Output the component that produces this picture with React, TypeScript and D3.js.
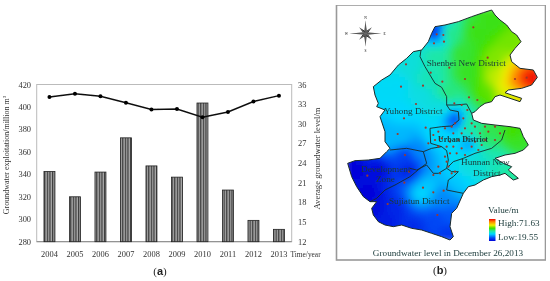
import React from "react";
import * as d3 from "d3";

const years = ["2004","2005","2006","2007","2008","2009","2010","2011","2012","2013"];
const exploitation = [342.5,320,342,372.5,347.5,337.5,403.5,326,299,291];
const level = [34.1,34.6,34.2,33.2,32.2,32.25,31.0,31.8,33.4,34.3];
const leftTicks = [280,300,320,340,360,380,400,420];
const rightTicks = [12,15,18,21,24,27,30,33,36];

type P = [number, number];
const outer: P[] = [[300,80],[330,75],[370,65],[410,50],[445,38],[470,30],[480,45],[495,60],[515,75],[530,95],[545,105],[558,125],[540,145],[525,165],[530,185],[555,205],[595,210],[607,232],[590,255],[560,265],[520,270],[510,278],[530,285],[560,295],[555,305],[525,295],[495,285],[480,290],[470,305],[450,310],[435,320],[420,335],[410,340],[415,360],[440,370],[480,375],[525,380],[555,385],[565,410],[580,435],[565,450],[540,460],[510,465],[480,475],[505,490],[530,500],[520,510],[550,535],[535,540],[510,520],[495,525],[470,530],[445,540],[420,555],[400,560],[385,580],[365,625],[350,640],[345,680],[355,710],[345,720],[320,710],[290,700],[260,690],[230,685],[200,675],[175,680],[150,675],[130,665],[115,645],[110,625],[125,605],[105,605],[85,590],[65,560],[50,530],[38,490],[60,482],[100,480],[135,475],[155,455],[165,445],[150,425],[150,395],[135,350],[150,330],[125,320],[130,310],[120,285],[115,260],[140,240],[165,225],[190,195],[215,175],[235,155],[260,150],[280,125],[290,100]];
const boundaries: P[][] = [
  [[258,150],[255,170],[270,200],[285,225],[300,250],[320,262],[335,290],[335,315],[360,315],[395,312],[410,340]],
  [[335,315],[345,330],[370,335],[372,360],[350,378],[320,380],[285,385],[287,430],[320,440],[335,452],[340,480],[335,505],[350,515],[370,515],[355,530],[340,540],[335,570],[385,580]],
  [[165,450],[215,445],[265,455],[290,445],[320,440]],
  [[265,455],[275,490],[255,505],[225,530],[180,555],[150,570],[125,595],[105,605]],
  [[225,505],[245,510],[275,495],[295,520],[310,520],[335,505]],
  [[510,390],[500,420],[470,445],[420,460],[385,475],[355,485],[340,500]],
];
const wells: P[] = [[415,82],[305,103],[325,105],[327,125],[297,130],[458,173],[213,193],[343,203],[287,218],[390,237],[322,245],[540,237],[575,233],[198,260],[264,257],[402,292],[427,300],[243,312],[397,330],[358,310],[380,315],[207,355],[272,383],[188,402],[210,465],[97,527],[222,515],[208,548],[264,563],[295,577],[326,572],[158,612],[307,645],[310,500],[295,525],[335,485],[340,500],[350,520],[360,515],[315,520],[385,355],[360,370],[410,370],[350,380],[420,380],[390,385],[450,380],[480,380],[330,385],[310,395],[295,405],[355,400],[380,400],[410,400],[435,400],[460,395],[495,400],[320,415],[345,425],[370,420],[395,415],[420,425],[450,420],[480,420],[300,420],[310,440],[335,440],[355,440],[380,445],[410,440],[440,435],[280,430],[365,460],[390,465],[430,450],[345,460],[330,470]];
const samples: [number, number, number][] = [[600,235,1],[570,235,.97],[540,240,.88],[510,235,.74],[490,230,.68],[480,180,.63],[530,130,.62],[470,60,.56],[420,100,.56],[380,160,.54],[340,100,.47],[305,95,.1],[390,220,.55],[450,280,.6],[520,285,.7],[300,170,.44],[280,240,.42],[340,280,.48],[230,190,.37],[190,260,.33],[130,280,.33],[260,280,.36],[320,320,.36],[200,340,.32],[360,360,.15],[410,370,.45],[460,390,.52],[530,400,.58],[400,400,.42],[300,410,.33],[450,410,.5],[540,430,.55],[400,430,.25],[200,410,.28],[160,420,.28],[500,480,.42],[530,520,.45],[420,490,.38],[370,540,.3],[250,450,.22],[210,470,.12],[130,510,.02],[60,510,0],[100,580,0],[220,510,.06],[280,560,.3],[260,580,.32],[320,590,.22],[180,630,.07],[300,660,.13],[340,700,.1],[150,660,.05],[350,650,.16],[390,510,.36],[120,625,.02],[240,680,.08]];
const rampStops: [number, string][] = [[0,"#0000d8"],[.15,"#0050f8"],[.32,"#00d8ff"],[.45,"#20e8a0"],[.58,"#40e000"],[.72,"#f0f000"],[.88,"#ff8000"],[1,"#f00000"]];
const compassPoints = [0,45,90,135,180,225,270,315];

const ramp = d3.scaleLinear<string>().domain(rampStops.map(d=>d[0])).range(rampStops.map(d=>d[1])).interpolate(d3.interpolateRgb);

const x = d3.scaleBand().domain(years).range([36.7,291.7]).paddingInner(.57).paddingOuter(.285);
const yL = d3.scaleLinear().domain([280,420]).range([241.7,84.5]);
const yR = d3.scaleLinear().domain([12,36]).range([241.7,84.5]);
const lineGen = d3.line<number>().x((_,i)=>x(years[i])!+x.bandwidth()/2).y(d=>yR(d)).curve(d3.curveLinear);

const mx = d3.scaleLinear().domain([0,645]).range([335,550]);
const my = d3.scaleLinear().domain([0,843]).range([0,281]);
const mapLine = d3.line<P>().x(d=>mx(d[0])).y(d=>my(d[1]));

function idw(px: number, py: number) {
  let w = 0, s = 0;
  for (const [a,b,v] of samples) {
    const d = Math.max(1,(a-px)**2+(b-py)**2);
    const k = 1/(d*Math.sqrt(d));
    w += k; s += k*v;
  }
  return s/w;
}
const cell = 9;
const gridX = d3.range(30,615,cell);
const gridY = d3.range(24,726,cell);

const serif = "'Liberation Serif', serif";

export default function App() {
  return (
    <svg width={550} height={281} style={{position:"absolute",left:0,top:0,background:"#fff"}} fontFamily={serif}>
      <defs>
        <pattern id="hatch" width={2.6} height={4} patternUnits="userSpaceOnUse">
          <rect width={2.6} height={4} fill="#a8a8a8"/>
          <rect width={1.2} height={4} fill="#3a3a3a"/>
        </pattern>
        <clipPath id="mapClip"><path d={mapLine(outer)+"Z"}/></clipPath>
        <filter id="soft" x="-5%" y="-5%" width="110%" height="110%"><feGaussianBlur stdDeviation={3.5}/></filter>
        <filter id="jpeg" x="0" y="0" width="100%" height="100%"><feGaussianBlur stdDeviation={0.4}/></filter>
        <linearGradient id="legendRamp" x1="0" y1="1" x2="0" y2="0">
          {rampStops.map(d=><stop key={d[0]} offset={d[0]} stopColor={d[1]}/>)}
        </linearGradient>
      </defs>
      <g filter="url(#jpeg)">
        {/* panel a */}
        <rect x={36.7} y={84.5} width={255} height={157.2} fill="none" stroke="#bbb" strokeWidth={1}/>
        <line x1={36.7} x2={291.7} y1={241.7} y2={241.7} stroke="#888"/>
        {years.map((yr,i)=>(
          <g key={yr}>
            <rect x={x(yr)} y={yL(exploitation[i])} width={x.bandwidth()} height={241.7-yL(exploitation[i])} fill="url(#hatch)" stroke="#222" strokeWidth={0.8}/>
            <text x={x(yr)!+x.bandwidth()/2} y={257} textAnchor="middle" fontSize={8.4} fill="#333">{yr}</text>
          </g>
        ))}
        <path d={lineGen(level)!} fill="none" stroke="#111" strokeWidth={1.5}/>
        {level.map((d,i)=><circle key={i} cx={x(years[i])!+x.bandwidth()/2} cy={yR(d)} r={2} fill="#000"/>)}
        {leftTicks.map(t=><text key={t} x={31} y={yL(t)+3} textAnchor="end" fontSize={8.4} fill="#333">{t}</text>)}
        {rightTicks.map(t=><text key={t} x={298} y={yR(t)+3} fontSize={8.4} fill="#333">{t}</text>)}
        <text x={290.5} y={256.5} fontSize={7.4} fill="#333">Time/year</text>
        <text transform="translate(9,155) rotate(-90)" textAnchor="middle" fontSize={8} fill="#333">Groundwater exploitation/million m<tspan dy={-3} fontSize={5}>3</tspan></text>
        <text transform="translate(320,158.5) rotate(-90)" textAnchor="middle" fontSize={8.6} fill="#333">Average groundwater level/m</text>
        <text x={160} y={275} textAnchor="middle" fontSize={11} fill="#222">(<tspan fontWeight="bold" fontFamily="'Liberation Sans', sans-serif">a</tspan>)</text>

        {/* panel b */}
        <rect x={336.5} y={5} width={209} height={255} fill="#fff" stroke="#999" strokeWidth={1.6}/>
        <g clipPath="url(#mapClip)">
          <g filter="url(#soft)">
            {gridX.map(a=>gridY.map(b=>(
              <rect key={a+"_"+b} x={mx(a)} y={my(b)} width={3.1} height={3.1} fill={ramp(idw(a+cell/2,b+cell/2))}/>
            )))}
          </g>
        </g>
        <path d={mapLine(outer)+"Z"} fill="none" stroke="#1a2a2a" strokeWidth={1}/>
        {boundaries.map((b,i)=><path key={i} d={mapLine(b)!} fill="none" stroke="#1a2a2a" strokeWidth={0.9}/>)}
        {wells.map((w,i)=><circle key={i} cx={mx(w[0])} cy={my(w[1])} r={1.1} fill="#a03828"/>)}
        <g fontSize={9.2} fill="#1a3a3a">
          <text x={426.7} y={66}>Shenbei New District</text>
          <text x={384} y={113.5}>Yuhong District</text>
          <text x={438} y={141.5} fontWeight="bold" fontSize={8}>Urban District</text>
          <text x={461} y={165}>Hunnan New</text>
          <text x={473} y={176}>District</text>
          <text x={361} y={172}>Development</text>
          <text x={376} y={182}>Zone</text>
          <text x={389} y={204}>Sujiatun District</text>
          <text x={488} y={213}>Value/m</text>
          <text x={498} y={226}>High:71.63</text>
          <text x={498} y={240}>Low:19.55</text>
          <text x={448} y={256} textAnchor="middle">Groundwater level in December 26,2013</text>
        </g>
        <rect x={489} y={219} width={6.5} height={22} fill="url(#legendRamp)"/>
        <text x={440} y={274} textAnchor="middle" fontSize={11} fill="#222">(<tspan fontWeight="bold" fontFamily="'Liberation Sans', sans-serif">b</tspan>)</text>
        <g transform="translate(365.5,33.5)">
          {compassPoints.map(a=>{
            const major = a%90===0;
            const len = major ? (a%180===0?13:16) : 9;
            const star = d3.lineRadial<[number,number]>().angle(d=>d[0]*Math.PI/180).radius(d=>d[1]);
            return <g key={a}>
              <path d={star([[a,len],[a+22,3],[a,0]])+"Z"} fill="#000"/>
              <path d={star([[a,len],[a-22,3],[a,0]])+"Z"} fill="#333"/>
            </g>;
          })}
          <text y={-14.5} textAnchor="middle" fontSize={3.5}>N</text>
          <text y={18} textAnchor="middle" fontSize={3.5}>S</text>
          <text x={-19} y={1} textAnchor="middle" fontSize={3.5}>W</text>
          <text x={19} y={1} textAnchor="middle" fontSize={3.5}>E</text>
        </g>
      </g>
    </svg>
  );
}
